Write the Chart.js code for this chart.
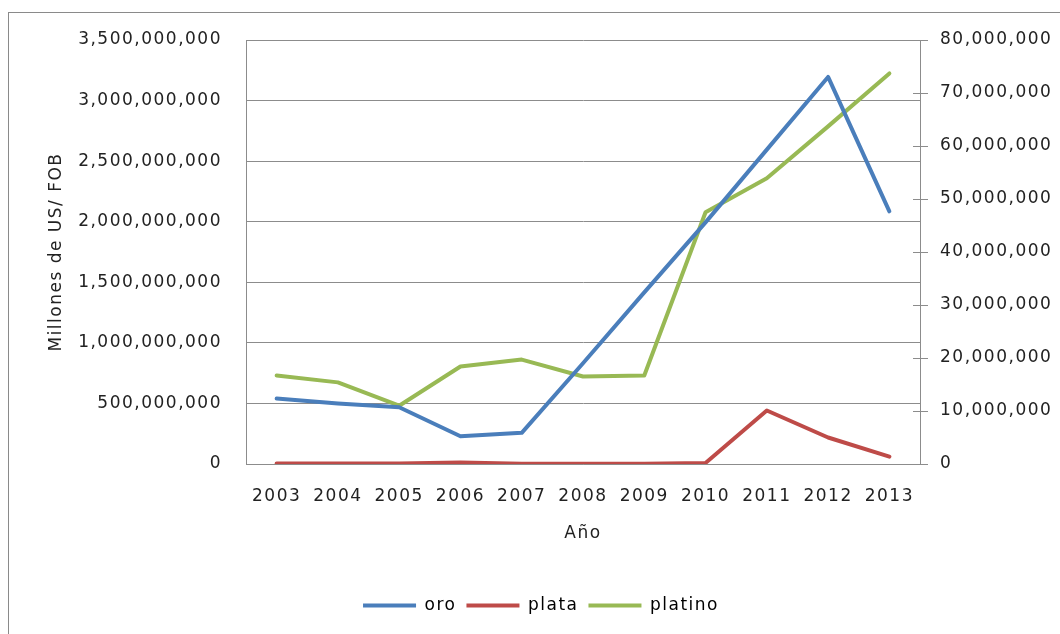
<!DOCTYPE html>
<html>
<head>
<meta charset="utf-8">
<script src="https://cdn.jsdelivr.net/npm/chart.js@4.4.1/dist/chart.umd.min.js"></script>
<style>
  html, body { margin: 0; padding: 0; background: #fff; overflow: hidden; }
  #wrap { position: relative; width: 1060px; height: 634px; overflow: hidden; background: #fff; }
  #frame { position: absolute; left: 8px; top: 12px; width: 1200px; height: 800px;
           border: 1px solid #8a8a8a; box-sizing: border-box; }
  #chart { position: absolute; left: 0; top: 0; }
</style>
</head>
<body>
<div id="wrap">
  <div id="frame"></div>
  <canvas id="chart" width="1060" height="634"></canvas>
</div>
<script>
// Exportaciones anuales por metal (US$ FOB)
const years   = ['2003', '2004', '2005', '2006', '2007', '2008', '2009', '2010', '2011', '2012', '2013'];
const oro     = [540e6, 500e6, 469e6, 229e6, 257e6, 832e6, 1417e6, 1995e6, 2595e6, 3195e6, 2086e6];
const plata   = [0.1e6, 0.1e6, 0.1e6, 0.3e6, 0.05e6, 0.05e6, 0.05e6, 0.2e6, 10.1e6, 5.0e6, 1.4e6];
const platino = [16.7e6, 15.4e6, 11.0e6, 18.4e6, 19.7e6, 16.5e6, 16.7e6, 47.5e6, 53.9e6, 63.7e6, 73.7e6];

// Axis ranges
const leftMax = 3500000000, leftStep = 500000000;
const rightMax = 80000000, rightStep = 10000000;

const gridColor = '#8c8c8c';
const textColor = '#222222';
const fontFamily = '"DejaVu Sans", sans-serif';
const spacing = '1.5px';

const fmt = v => Number(v).toLocaleString('en-US');

// Wider letter spacing for all canvas text
const letterSpacingPlugin = {
  id: 'letterSpacing',
  beforeUpdate(chart) { chart.ctx.letterSpacing = spacing; },
  beforeLayout(chart) { chart.ctx.letterSpacing = spacing; },
  beforeDraw(chart) { chart.ctx.letterSpacing = spacing; }
};

// Short tick marks on the inner side of the secondary axis
const innerTicksPlugin = {
  id: 'innerTicks',
  beforeDatasetsDraw(chart) {
    const s = chart.scales.y1;
    const ctx = chart.ctx;
    ctx.save();
    ctx.strokeStyle = gridColor;
    ctx.lineWidth = 1;
    s.ticks.forEach(t => {
      const y = Math.round(s.getPixelForValue(t.value)) + 0.5;
      ctx.beginPath();
      ctx.moveTo(s.left - 7, y);
      ctx.lineTo(s.left, y);
      ctx.stroke();
    });
    ctx.restore();
  }
};

Chart.defaults.font.family = fontFamily;
Chart.defaults.font.size = 17;
Chart.defaults.color = textColor;

new Chart(document.getElementById('chart'), {
  type: 'line',
  data: {
    labels: years,
    datasets: [
      { label: 'oro', data: oro, yAxisID: 'y', borderColor: '#4A7EBB', backgroundColor: '#4A7EBB' },
      { label: 'plata', data: plata, yAxisID: 'y1', borderColor: '#BE4B48', backgroundColor: '#BE4B48' },
      { label: 'platino', data: platino, yAxisID: 'y1', borderColor: '#98B954', backgroundColor: '#98B954' }
    ]
  },
  options: {
    responsive: false,
    devicePixelRatio: 1,
    animation: false,
    events: [],
    elements: {
      line: { borderWidth: 4, tension: 0, borderCapStyle: 'round', borderJoinStyle: 'round' },
      point: { radius: 0 }
    },
    layout: { padding: { left: 22, right: 0, top: 40, bottom: 10 } },
    plugins: {
      tooltip: { enabled: false },
      legend: {
        position: 'bottom',
        labels: {
          usePointStyle: true,
          pointStyle: 'line',
          pointStyleWidth: 53,
          padding: 10,
          color: textColor,
          font: { size: 17 },
          generateLabels(chart) {
            return chart.data.datasets.map((ds, i) => ({
              text: ds.label,
              strokeStyle: ds.borderColor,
              fillStyle: ds.borderColor,
              lineWidth: 4,
              pointStyle: 'line',
              datasetIndex: i,
              hidden: false
            }));
          }
        }
      }
    },
    scales: {
      x: {
        type: 'category',
        offset: true,
        grid: { display: false, drawTicks: false },
        border: { display: true, color: gridColor, width: 1 },
        ticks: { padding: 22, maxRotation: 0, autoSkip: false, color: textColor },
        title: { display: true, text: 'Año', color: textColor, font: { size: 17 },
                 padding: { top: 0, bottom: 43 } },
        afterFit(scale) { scale.height = 123; }
      },
      y: {
        position: 'left',
        min: 0, max: leftMax,
        grid: { color: gridColor, lineWidth: 1, drawTicks: false },
        border: { display: true, color: gridColor, width: 1 },
        ticks: { stepSize: leftStep, padding: 24, color: textColor, callback: fmt },
        title: { display: true, text: 'Millones de US/ FOB', color: textColor, font: { size: 17 },
                 padding: { top: 24, bottom: 0 } },
        afterFit(scale) { scale.width = 224; }
      },
      y1: {
        position: 'right',
        min: 0, max: rightMax,
        grid: { drawOnChartArea: false, drawTicks: true, tickLength: 8, color: gridColor, lineWidth: 1 },
        border: { display: true, color: gridColor, width: 1 },
        ticks: { stepSize: rightStep, padding: 12, color: textColor, callback: fmt },
        afterFit(scale) { scale.width = 140; }
      }
    }
  },
  plugins: [letterSpacingPlugin, innerTicksPlugin]
});
</script>
</body>
</html>
